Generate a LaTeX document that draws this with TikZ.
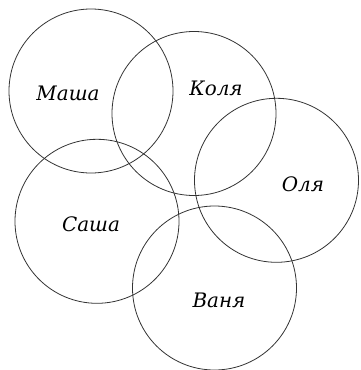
\documentclass[tikz,border=0pt]{standalone}
\usepackage{fontspec}
\setmainfont{DejaVu Serif}
\begin{document}
\begin{tikzpicture}[x=1bp,y=-1bp,
  ring/.style={draw=black!80,line width=0.8bp,circle,minimum size=164bp,inner sep=0pt},
  lbl/.style={font=\fontsize{20}{23}\selectfont\itshape,inner sep=0pt}]
\useasboundingbox (0,0) rectangle (361,370);
\node[ring] (m) at (91,91) {};
\node[ring] (k) at (194,113.5) {};
\node[ring] (o) at (276.5,180.3) {};
\node[ring] (s) at (97,221.3) {};
\node[ring] (v) at (214.5,288) {};
\node[lbl] (tm) at (68,93) {Маша};
\node[lbl] (tk) at (216,88) {Коля};
\node[lbl] (to) at (303,184) {Оля};
\node[lbl] (ts) at (91,224) {Саша};
\node[lbl] (tv) at (219,300) {Ваня};
\end{tikzpicture}
\end{document}
